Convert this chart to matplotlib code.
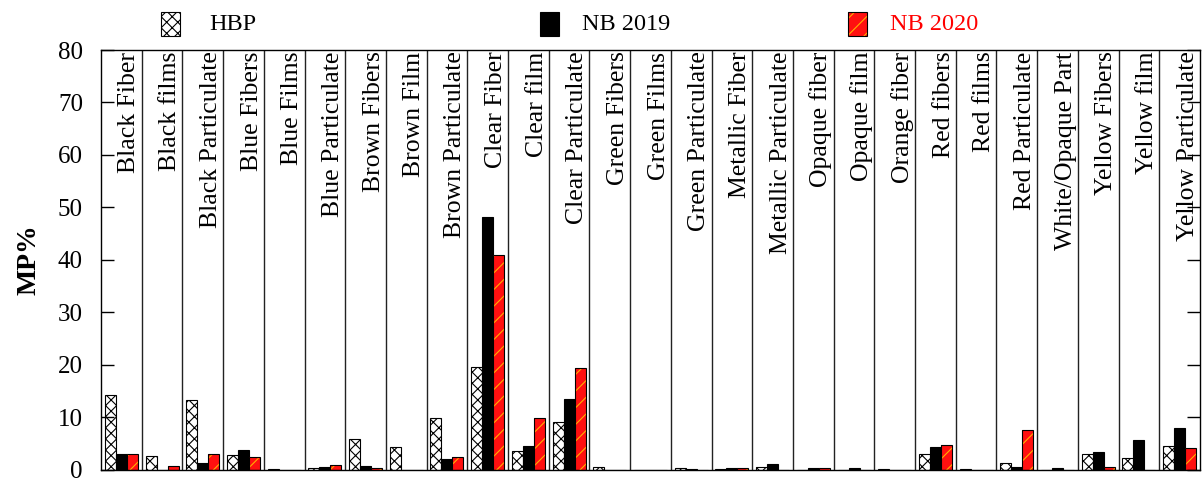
import matplotlib
matplotlib.use('Agg')
import matplotlib.pyplot as plt
from matplotlib.patches import Rectangle
import numpy as np

plt.rcParams['font.family'] = ['Liberation Serif', 'DejaVu Serif']
plt.rcParams['hatch.linewidth'] = 0.8

categories = ['Black Fiber', 'Black films', 'Black Particulate', 'Blue Fibers',
              'Blue Films', 'Blue Particulate', 'Brown Fibers', 'Brown Film',
              'Brown Particulate', 'Clear Fiber', 'Clear film', 'Clear Particulate',
              'Green Fibers', 'Green Films', 'Green Particulate', 'Metallic Fiber',
              'Metallic Particulate', 'Opaque fiber', 'Opaque film', 'Orange fiber',
              'Red fibers', 'Red films', 'Red Particulate', 'White/Opaque Part',
              'Yellow Fibers', 'Yellow film', 'Yellow Particulate']

hbp = [14.3, 2.6, 13.2, 2.85, 0.15, 0.3, 5.8, 4.2, 9.8, 19.5, 3.5, 9.05,
       0.45, 0.0, 0.35, 0.1, 0.45, 0.0, 0.0, 0.15, 2.9, 0.15, 1.15, 0.0,
       2.9, 2.2, 4.45]
nb2019 = [3.0, 0.0, 1.15, 3.7, 0.0, 0.4, 0.6, 0.0, 2.0, 48.1, 4.45, 13.4,
          0.0, 0.0, 0.15, 0.3, 1.0, 0.2, 0.2, 0.0, 4.3, 0.0, 0.5, 0.35,
          3.4, 5.6, 7.95]
nb2020 = [3.0, 0.65, 2.9, 2.3, 0.0, 0.85, 0.35, 0.0, 2.35, 41.0, 9.8, 19.4,
          0.0, 0.0, 0.0, 0.3, 0.0, 0.3, 0.0, 0.0, 4.65, 0.0, 7.5, 0.0,
          0.5, 0.0, 4.1]

yticks = [0, 10, 20, 30, 40, 50, 60, 70, 80]

fig = plt.figure(figsize=(12.04, 4.8), dpi=100)
ax = fig.add_axes([101 / 1204, 1 - 469.5 / 480, 1099 / 1204, 419.5 / 480])

x = np.arange(len(categories))
w = 0.27

ax.bar(x - w, hbp, w, color='white', edgecolor='black', hatch='xxx', lw=0.8)
ax.bar(x, nb2019, w, color='black', edgecolor='black', lw=0.8)
ax.bar(x + w, nb2020, w, color='#ff1010', edgecolor='#ffb000', hatch='//', lw=0)
ax.bar(x + w, nb2020, w, color='none', edgecolor='black', lw=0.8)

for i in range(1, len(categories)):
    ax.axvline(i - 0.5, color='#222222', lw=1.0, zorder=0.5)

for i, c in enumerate(categories):
    ax.text(i + 0.47, 79.7, c, rotation=90, ha='right', va='top', fontsize=18.5)

ax.set_xlim(-0.5, len(categories) - 0.5)
ax.set_ylim(0, 80)
ax.set_xticks([])
ax.set_yticks(yticks)
ax.tick_params(axis='y', direction='in', length=9.4, width=1, labelsize=18,
               pad=13, right=True)
for s in ax.spines.values():
    s.set_linewidth(1.0)
ax.set_ylabel('MP%', fontsize=20, fontweight='bold', labelpad=12)

# legend drawn in figure pixels
def fig_box(x0, **kw):
    r = Rectangle((x0 / 1204, 1 - 36 / 480), 19 / 1204, 24 / 480,
                  transform=fig.transFigure, **kw)
    fig.patches.append(r)

fig_box(161, facecolor='white', edgecolor='black', hatch='xxx', lw=0.8)
fig_box(540, facecolor='black', edgecolor='black', lw=0.8)
fig_box(848, facecolor='#ff1010', edgecolor='#ffb000', hatch='//', lw=0)
fig_box(848, facecolor='none', edgecolor='black', lw=0.8)

fig.text(209 / 1204, 1 - 25 / 480, 'HBP', fontsize=17.5, va='center')
fig.text(582 / 1204, 1 - 25 / 480, 'NB 2019', fontsize=17.5, va='center')
fig.text(890 / 1204, 1 - 25 / 480, 'NB 2020', fontsize=17.5, va='center', color='red')

fig.savefig('out.png', dpi=100)
